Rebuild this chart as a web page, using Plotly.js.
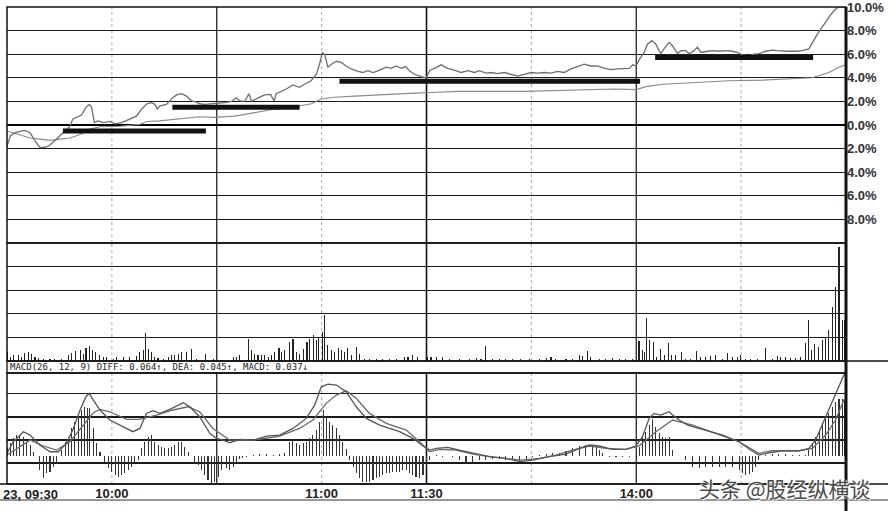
<!DOCTYPE html>
<html>
<head>
<meta charset="utf-8">
<script src="https://cdn.plot.ly/plotly-3.0.1.min.js"></script>
<style>html,body{margin:0;padding:0;background:#fff;}#chart{width:891px;height:511px;}</style>
</head>
<body>
<div id="chart"></div>
<script>
// ---- time axis (minutes after 09:30, trading session 240 min) ----
const timeTicks = [30, 90, 120, 180];
const timeTickText = ['10:00', '11:00', '11:30', '14:00'];
const firstTimeLabel = '23, 09:30';
const solidGridTimes = [60, 120, 180];
const dottedGridTimes = [30, 90, 150, 210];

// ---- price panel (% change) ----
const priceTickVals = [-8, -6, -4, -2, 0, 2, 4, 6, 8, 10];
const priceTickText = ['8.0%', '6.0%', '4.0%', '2.0%', '0.0%', '2.0%', '4.0%', '6.0%', '8.0%', '10.0%'];

const priceT = [0,1,2.3,5,6.6,8,9.4,11,12.3,13.7,15,16.6,18,18.8,20,21.3,22.6,23.5,24.2,25,26,27.5,29.4,30.9,32.8,35,37,38.5,40,41.3,42.3,43,43.7,45.6,47,48.5,50,51.3,52.8,54.2,55,56.6,59.4,62.3,64.2,65.6,66.6,68,69.2,70,71.8,73.7,75.4,76.4,77,78.5,79.9,81.8,83.7,85.1,87,88.5,89.4,90.2,90.9,91.8,92.8,94.2,95.6,97,98.5,100.4,101.8,103.2,104.7,106.6,108.5,109.9,111.3,112.8,114,115.1,116.6,118.5,119.9,121,122.3,124.2,126,128,129.9,131.8,133.7,135.1,137,138.5,140.4,142.3,144.2,146,148,149.9,151.8,153.7,155.6,157.5,159.4,161.3,163.2,165.1,167,168.9,170.9,172.8,174.7,176.6,178,179,179.9,181,182.3,183.2,184.5,185.6,187,188.3,189.4,190.4,191.8,192.8,194.2,195.1,196.6,197.5,198.5,200.4,202.3,203.7,205.6,207.5,208.9,210.4,212.3,213.7,215.1,217,218.9,220.3,221.8,223.7,225.6,227.5,229.4,230.4,231.8,233.2,235.1,236.6,237.8,240];
const priceV = [-1.8,-0.9,-0.65,-0.45,-0.65,-1.35,-1.9,-1.9,-1.7,-1.35,-0.95,-0.5,-0.1,0.5,0.7,0.85,1.5,1.75,1.5,0.2,0.35,0.2,0.3,0.1,0.2,0.5,0.75,1.35,1.8,1.9,1.75,1.35,1.6,1.75,2.2,2.55,2.65,2.45,2.05,1.95,1.8,1.75,1.8,1.9,2.0,2.3,2.05,2.0,2.65,2.0,2.3,2.55,2.6,2.05,2.65,2.85,3.05,3.4,3.2,3.45,3.75,4.3,5.15,6.15,5.95,4.9,5.15,5.4,5.3,5.0,4.75,4.55,4.45,4.6,4.45,4.65,4.9,4.8,5.0,4.8,4.95,4.6,4.3,4.1,4.0,4.65,4.8,5.1,4.8,4.65,4.45,4.6,4.45,4.6,4.4,4.45,4.35,4.45,4.3,4.15,4.3,4.45,4.4,4.45,4.4,4.55,4.45,4.75,4.95,5.15,5.0,5.0,4.8,4.7,4.75,4.8,4.8,5.1,5.0,5.6,6.15,6.85,7.15,6.85,6.05,6.6,7.0,6.7,6.05,6.3,6.3,6.05,6.3,6.6,6.15,6.25,6.3,6.25,6.3,6.25,6.15,5.95,5.85,6.0,6.05,6.25,6.35,6.3,6.25,6.25,6.25,6.3,6.45,7.0,7.7,8.3,9.15,9.7,10.0,10.0];

const avgT = [0,6.6,9.4,12.3,15.1,18,20.9,23.7,26.6,32.3,38,39.9,43.7,49.4,55.1,59.4,65.1,70.9,76.6,82.3,87.1,89.9,93.7,99.4,105.1,110.9,116.6,121.3,128.9,148,162.3,173.7,180,182.8,187.5,197,206.6,216,225.6,230.3,235.1,238,240];
const avgV = [-0.5,-1.1,-1.2,-1.3,-1.2,-1.1,-0.8,-0.35,-0.15,-0.1,0.05,0.3,0.35,0.5,0.7,0.65,0.75,1.05,1.35,1.55,1.8,2.2,2.35,2.45,2.55,2.6,2.7,2.75,2.85,2.85,2.95,3.05,3.0,3.25,3.45,3.6,3.75,3.8,3.9,4.0,4.45,4.9,5.1];

// thick support / platform lines drawn on the price panel
const supportStart = [16, 47.3, 95.1, 185.4];
const supportEnd = [56.9, 83.7, 181.1, 230.6];
const supportLevel = [-0.5, 1.5, 3.7, 5.73];

// ---- volume ----
const volT = [0,0.9,1.8,3.2,4.2,5.1,6.1,7,8,9,10.4,12.3,13.7,15.6,17.5,18.5,19.7,20.9,21.8,22.6,23.5,24.5,25.4,26.4,27.5,28.5,30.4,31.3,33.2,35.1,37,38,39,39.7,40.4,41.3,42.3,43.2,44.7,46.1,47,48,49,49.9,51.3,52.8,54.2,56.9,59,64.7,65.6,66.6,69,69.9,70.9,71.8,72.8,73.7,74.7,75.6,76.6,77.8,78.5,79.4,80.7,81.8,82.8,83.7,84.9,85.8,86.6,87.7,88.5,89.2,90.2,90.9,91.8,92.8,93.7,94.7,95.6,96.6,97.5,98.5,99.9,100.9,102.3,103.7,105.6,107.5,109.4,111.3,113.7,114.7,116.1,117.5,120.4,121.3,122.8,124.7,126.6,129.4,132.3,134.2,135.6,137,139,140.8,142.7,144.7,147,149.4,152.3,154.2,155.6,157,159.9,161.8,163.7,164.5,166.1,167,169.4,171.3,173.2,175.1,177,178.9,180.8,181.8,182.3,182.9,183.9,184.9,185.8,187,188,189.2,190.2,191.3,193,194.2,195.6,197.2,198.5,199.9,201.3,202.7,204.7,206.2,207.5,209,209.9,211.3,212.7,214.6,217,218.9,220.4,221.3,222.7,224.2,225.6,227,228.3,229.2,230.2,231.1,232.1,233.2,234.2,235.1,236.1,237,238,238.9,239.6];
const volV = [9,4,5.7,5.7,4,8.3,9,7.3,4,3,1.7,1.7,1.7,2.3,5.7,8.3,9.7,10.7,7.3,13,15,10.7,9,5.7,4,4,2.3,4,4,4,5,9,10.7,28.3,12.3,9,4,3,2.3,4,5.7,5.7,7.3,9,9,12.3,2.3,7.3,2.3,4,4,5.7,22.3,10.7,7.3,5.7,6.3,5.7,4,5.7,9,13,9,10.7,19,22.3,9,7.3,12.3,19,22.3,25.7,20.7,24,29,46.3,15.7,10.7,9,13,10.7,9,13,5.7,14,7.3,2.3,2.3,1.7,2.3,2.3,1.7,4,4,5.7,4,4,4,4,4,2,2,2,3,2,14.7,2,2,2,2.3,2,2,2,3,4,2,2,2.3,6.3,5,9.7,4,2,2,3,2,2.3,2,19.7,10.7,9,43,20.7,19,4,11.7,5.7,18.3,6.3,5.7,9,2.3,1.7,9.7,4,4,5,5.7,2.3,8,4,4,5.7,2.3,2.3,2.3,13,2.3,5,4,4,3,3,4,18,40.7,10.7,17.3,14,20.7,24,30.7,54,74,114,40.7,40.7];

// ---- MACD(26,12,9) ----
const macdLabel = 'MACD(26, 12, 9) DIFF: 0.064\u2191, DEA: 0.045\u2191, MACD: 0.037\u2193';
const diffT = [0,1.8,4.7,6.6,9.4,12.3,14.7,17,19,20.9,22.6,23.5,24.7,26.6,29.4,32.3,36,38,39.9,41.8,43.7,46.6,50.4,52.3,55.1,58,59.9,61.8,63.7,66.6,70.4,74.2,78,81.8,85.6,88,89.9,91.8,94.2,97,99.9,102.8,106.6,112.3,116.1,119,120.9,122.8,126.1,129.4,133.2,138,142.7,146.6,150.4,155.1,159.9,163.7,166.6,169.4,173.2,177,179.9,181.8,183.7,185.1,187,189.4,190.4,192.3,194.7,199.9,204.7,209.4,212.7,215.1,218,221.8,226.6,229.4,231.3,234.2,237,239.4,240];
const diffV = [0.0022,0.0114,0.0194,0.0167,0.0088,0.0034,0.0034,0.0101,0.022,0.0367,0.0473,0.050,0.0446,0.0367,0.0287,0.0247,0.0194,0.022,0.034,0.0361,0.034,0.0372,0.0425,0.0393,0.0313,0.0181,0.0141,0.0127,0.0106,0.0133,0.0127,0.0159,0.0167,0.022,0.030,0.0406,0.0552,0.0574,0.0566,0.0513,0.0393,0.030,0.0247,0.0194,0.0141,0.008,0.0048,0.0061,0.0069,0.0048,0.0022,-0.0005,-0.0019,-0.0045,-0.0032,-0.0005,0.0016,0.0061,0.0088,0.008,0.0053,0.0053,0.008,0.0154,0.030,0.034,0.0327,0.0353,0.0327,0.0287,0.0247,0.0207,0.0167,0.0114,0.0048,0.0008,0.0026,0.0042,0.0042,0.0061,0.0127,0.0313,0.050,0.0646,0.066];
const deaT = [0,2.8,6.6,10.4,14.2,18,21.8,24.7,26.6,29.4,34.2,38,42.8,47.5,51.8,55.1,58.9,63.7,70.4,78,83.7,87.5,91.3,94.2,97,99.9,103.7,108.5,114.2,118,120.9,123.7,128.5,133.2,138,142.7,147,152.3,157,161.8,166.6,171.3,177,180.8,185.6,190.4,196.1,202.7,209.4,215.1,218.9,226.6,230.4,234.2,237,239.4,240];
const deaV = [0.0008,0.0061,0.0127,0.008,0.0048,0.0114,0.0247,0.0345,0.0372,0.0353,0.0292,0.0292,0.0327,0.0367,0.0393,0.0353,0.022,0.0127,0.0127,0.0159,0.022,0.0287,0.042,0.0486,0.052,0.046,0.034,0.0261,0.0207,0.0114,0.0034,0.0053,0.0048,0.0016,-0.0005,-0.0019,-0.0032,-0.0019,0.0008,0.0048,0.008,0.0061,0.0053,0.008,0.0194,0.0287,0.0247,0.0181,0.0114,0.0022,0.0042,0.0042,0.0061,0.0167,0.0287,0.0446,0.045];
const histT = [0,0.9,1.8,2.8,3.7,4.7,5.6,6.6,7.5,9.4,10.4,11.3,12.3,13.2,14.2,15.6,16.6,17.5,18.5,19.4,20.4,21.3,22.3,23,23.7,24.7,25.6,26.6,28,29,29.9,30.9,31.8,32.8,33.7,34.7,35.6,36.6,37.5,38.5,39.4,40.4,41.3,42.3,43.2,44.2,45.1,46.1,47,48,49,49.9,50.9,51.8,53.7,54.7,55.6,56.6,57.5,58.5,59.4,60.4,61.3,62.8,63.7,64.7,65.6,66.6,67.5,68.5,70.4,72.3,74.2,76.1,78,79.4,80.9,81.8,82.8,83.7,84.7,85.6,86.6,87.5,88.5,89.4,90.4,91.3,92.3,93.2,94.2,95.1,96.1,97,98,99,99.9,100.9,101.8,102.8,103.7,104.7,105.6,106.6,107.5,108.5,109.4,110.4,111.3,112.3,113.2,114.2,115.1,116.1,117,118,119,119.9,120.9,122.8,124.7,127.5,129.4,131.3,133.2,135.1,137,138.9,140.8,142.7,144.7,146.6,148.5,150.4,152.3,154.2,156.1,158,159.9,161.8,163.7,165.6,167.5,168.5,169.4,170.4,172.3,174.2,176.1,178,180.8,181.8,182.7,183.7,184.7,185.6,186.6,187.5,188.5,189.4,190.4,192.3,194.2,196.1,198,199.9,201.8,203.7,205.6,207.5,209.4,210.4,211.3,212.3,213.2,214.2,215.1,217,218.9,220.8,222.7,224.7,226.6,228.5,229.4,230.4,231.3,232.3,233.2,234.2,235.1,236.1,237,238,238.9,239.6];
const histV = [0.0061,0.0101,0.0141,0.0167,0.0167,0.0154,0.0114,0.0088,0.0034,-0.0112,-0.0178,-0.0138,-0.0125,-0.0085,-0.0045,0.0048,0.0114,0.0154,0.022,0.0273,0.0313,0.0367,0.0393,0.038,0.038,0.022,0.0101,0.0034,-0.0045,-0.0098,-0.0125,-0.0151,-0.0165,-0.0151,-0.0138,-0.0112,-0.0085,-0.0058,-0.0032,0.0061,0.0114,0.0154,0.0167,0.0114,0.0088,0.0074,0.0061,0.0061,0.0074,0.0088,0.0114,0.0114,0.0074,0.0034,-0.0045,-0.0072,-0.0112,-0.0151,-0.0191,-0.0218,-0.0205,-0.0165,-0.0112,-0.0098,-0.0112,-0.0085,-0.0045,-0.0027,-0.0019,-0.0005,0.0008,0.0013,0.0013,0.0008,0.0016,0.0027,0.0114,0.0128,0.0101,0.0088,0.0101,0.0114,0.0141,0.0167,0.0207,0.0274,0.0367,0.030,0.0274,0.0247,0.022,0.0167,0.0114,0.0053,-0.0032,-0.0085,-0.0138,-0.0178,-0.0205,-0.0205,-0.0205,-0.0191,-0.0178,-0.0165,-0.0151,-0.0138,-0.0138,-0.0125,-0.0125,-0.0125,-0.0112,-0.0112,-0.0138,-0.0151,-0.0165,-0.0178,-0.0151,-0.0085,-0.0032,0.0005,-0.0005,-0.0005,-0.0032,-0.0045,-0.0045,-0.0032,-0.0032,-0.0027,-0.0027,-0.0032,-0.0032,-0.0045,-0.0032,-0.0005,0.0008,0.0013,0.0021,0.0027,0.0043,0.0061,0.008,0.0088,0.0088,0.0074,0.0048,0.0021,-0.001,-0.001,-0.001,-0.0005,0.0074,0.0141,0.0194,0.0247,0.0292,0.0234,0.0181,0.0154,0.0141,0.0154,0.0048,0.0001,-0.0032,-0.0085,-0.0098,-0.009,-0.009,-0.009,-0.0085,-0.009,-0.0112,-0.0138,-0.0151,-0.0143,-0.0125,-0.0085,-0.0032,0.0008,0.0013,0.0013,0.0013,0.0011,0.0011,0.0008,0.0048,0.0101,0.0154,0.0207,0.026,0.030,0.034,0.0393,0.0433,0.0452,0.0452,0.0446];

const watermark = '头条 @股经纵横谈';

// ---- build traces ----
const supX = [], supY = [];
supportStart.forEach((s, i) => { supX.push(s, supportEnd[i], null); supY.push(supportLevel[i], supportLevel[i], null); });

const traces = [
  {x: avgT, y: avgV, type: 'scatter', mode: 'lines', line: {color: '#8a8a8a', width: 1.1}, xaxis: 'x', yaxis: 'y'},
  {x: priceT, y: priceV, type: 'scatter', mode: 'lines', line: {color: '#6e6e6e', width: 1.3}, xaxis: 'x', yaxis: 'y'},
  {x: supX, y: supY, type: 'scatter', mode: 'lines', line: {color: '#111', width: 5}, xaxis: 'x', yaxis: 'y'},
  {x: volT, y: volV, type: 'bar', width: 0.32, marker: {color: '#222', line: {width: 0}}, xaxis: 'x', yaxis: 'y2'},
  {x: histT, y: histV, type: 'bar', width: 0.3, marker: {color: '#333', line: {width: 0}}, xaxis: 'x', yaxis: 'y3'},
  {x: deaT, y: deaV, type: 'scatter', mode: 'lines', line: {color: '#6a6a6a', width: 1.3}, xaxis: 'x', yaxis: 'y3'},
  {x: diffT, y: diffV, type: 'scatter', mode: 'lines', line: {color: '#555', width: 1.3}, xaxis: 'x', yaxis: 'y3'}
];

const shapes = [];
['y', 'y2', 'y3'].forEach(ax => {
  solidGridTimes.forEach(t => shapes.push({type: 'line', xref: 'x', yref: ax + ' domain', x0: t, x1: t, y0: 0, y1: 1, line: {color: '#111', width: t === 120 ? 1.6 : 1.2}, layer: 'below'}));
  dottedGridTimes.forEach(t => shapes.push({type: 'line', xref: 'x', yref: ax + ' domain', x0: t, x1: t, y0: 0, y1: 1, line: {color: '#aaa', width: 1, dash: 'dot'}, layer: 'below'}));
  shapes.push({type: 'rect', xref: 'paper', yref: ax + ' domain', x0: 0, x1: 1, y0: 0, y1: 1, line: {color: '#111', width: 1.5}});
});
const labelRowBottom = 0.2327, labelRowTop = 0.2579;
shapes.push({type: 'rect', xref: 'paper', yref: 'paper', x0: 0, x1: 1, y0: labelRowBottom, y1: labelRowTop, line: {color: '#111', width: 1.3}});
shapes.push({type: 'line', xref: 'paper', yref: 'paper', x0: 1, x1: 1.05, y0: labelRowTop, y1: labelRowTop, line: {color: '#111', width: 1.3}});
shapes.push({type: 'line', xref: 'paper', yref: 'paper', x0: -0.01, x1: 1.05, y0: 0, y1: 0, line: {color: '#111', width: 1.5}});
shapes.push({type: 'line', xref: 'paper', yref: 'paper', x0: -0.01, x1: 1.05, y0: -0.0335, y1: -0.0335, line: {color: '#333', width: 1.2}});
shapes.push({type: 'line', xref: 'paper', yref: 'paper', x0: 1, x1: 1, y0: -0.06, y1: 1, line: {color: '#111', width: 3}});

const bold = {family: 'Liberation Sans, Arial, sans-serif', size: 13, color: '#222', weight: 700};

const layout = {
  width: 891, height: 511,
  margin: {l: 7, r: 45, t: 7, b: 27},
  paper_bgcolor: '#fff', plot_bgcolor: '#fff',
  showlegend: false, hovermode: false, bargap: 0,
  xaxis: {domain: [0, 1], range: [0, 240], anchor: 'y3', showgrid: false, zeroline: false, showline: false,
          tickmode: 'array', tickvals: timeTicks, ticktext: timeTickText, ticks: '', tickfont: bold, fixedrange: true},
  yaxis: {domain: [0.5052, 1], range: [-10, 10], side: 'right', anchor: 'x', tickmode: 'array', tickvals: priceTickVals, ticktext: priceTickText,
          ticks: '', ticklabeloverflow: 'allow', tickfont: Object.assign({}, bold, {color: '#333'}), showgrid: true, gridcolor: '#1a1a1a', gridwidth: 1.2,
          zeroline: true, zerolinecolor: '#000', zerolinewidth: 2.2, showline: false},
  yaxis2: {domain: [0.2579, 0.5052], range: [0, 118], anchor: 'x', tick0: 0, dtick: 23.6, showticklabels: false, ticks: '',
           showgrid: true, gridcolor: '#1a1a1a', gridwidth: 1.2, zeroline: false, showline: false},
  yaxis3: {domain: [0, 0.2327], range: [-0.0223, 0.0662], anchor: 'x', tick0: -0.0056, dtick: 0.0184, showticklabels: false, ticks: '',
           showgrid: true, gridcolor: '#1a1a1a', gridwidth: 1.2, zeroline: false, showline: false},
  shapes: shapes,
  annotations: [
    {text: macdLabel, xref: 'paper', yref: 'paper', x: 0, y: (labelRowBottom + labelRowTop) / 2, xanchor: 'left', yanchor: 'middle', xshift: 1,
     showarrow: false, font: {family: 'DejaVu Sans Mono, monospace', size: 9, color: '#222'}},
    {text: firstTimeLabel, xref: 'x', yref: 'paper', x: 0, y: 0, xanchor: 'left', yanchor: 'top', xshift: -6, yshift: -1,
     showarrow: false, font: bold},
    {text: watermark, xref: 'paper', yref: 'paper', x: 0.927, y: -0.008, xanchor: 'center', yanchor: 'middle',
     showarrow: false, font: {family: 'Noto Sans CJK SC, sans-serif', size: 21, color: '#4a4a4a', shadow: '1px 1px 1px #fff, -1px -1px 1px #fff'}}
  ]
};

Plotly.newPlot('chart', traces, layout, {displayModeBar: false, staticPlot: true});
</script>
</body>
</html>
